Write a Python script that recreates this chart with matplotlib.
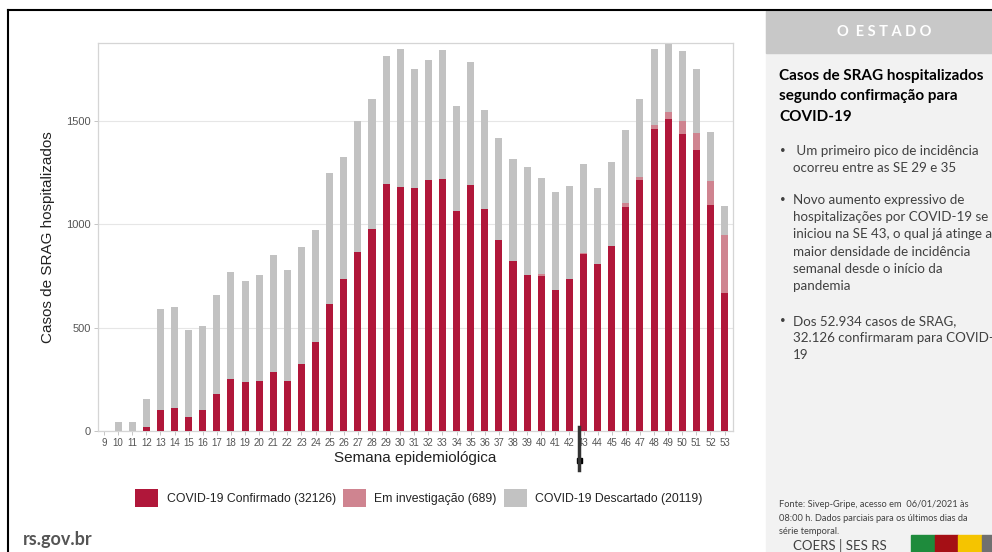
import numpy as np
import matplotlib.pyplot as plt
from matplotlib.patches import Rectangle, Patch
from matplotlib.lines import Line2D

# semanas epidemiologicas 9..53
semanas = list(range(9, 54))
confirmado = [0, 0, 0, 18, 102, 111, 68, 102, 179, 250, 235, 242, 285, 244, 324,
              429, 616, 736, 868, 977, 1195, 1178, 1176, 1216, 1219, 1063, 1189,
              1073, 923, 823, 753, 748, 681, 734, 856, 810, 895, 1082, 1215, 1460,
              1508, 1437, 1361, 1094, 669]
investigacao = [0, 0, 0, 0, 0, 0, 0, 0, 0, 0, 0, 0, 0, 0, 0,
                0, 0, 0, 0, 0, 0, 0, 0, 0, 0, 0, 0,
                0, 0, 0, 0, 12, 0, 0, 5, 0, 0, 20, 13, 18,
                37, 60, 79, 114, 279]
descartado = [0, 45, 45, 135, 487, 491, 421, 406, 477, 518, 492, 514, 567, 535, 568,
              542, 632, 588, 632, 630, 618, 671, 574, 576, 625, 510, 598,
              480, 495, 492, 524, 466, 477, 452, 429, 364, 405, 356, 377, 371,
              328, 343, 313, 237, 141]
legendas = ["COVID-19 Confirmado (32126)", "Em investigação (689)",
            "COVID-19 Descartado (20119)"]
cores = ["#B0173A", "#CF8490", "#C2C2C2"]

plt.rcParams['font.family'] = ['Liberation Sans', 'DejaVu Sans']

fig = plt.figure(figsize=(9.92, 5.52), dpi=100)
W, H = 992, 552

def fx(px):
    return px / W

def fy(py):
    return 1 - py / H

ax = fig.add_axes([fx(97.7), fy(431), fx(733) - fx(97.7), fy(42.7) - fy(431)])

conf = np.array(confirmado)
inv = np.array(investigacao)
desc = np.array(descartado)
ax.bar(semanas, conf, width=0.5, color=cores[0], zorder=3)
ax.bar(semanas, inv, width=0.5, bottom=conf, color=cores[1], zorder=3)
ax.bar(semanas, desc, width=0.5, bottom=conf + inv, color=cores[2], zorder=3)

ax.set_xlim(8.55, 53.6)
ax.set_ylim(0, 1878)
ax.set_xticks(semanas)
ax.set_yticks([0, 500, 1000, 1500])
ax.tick_params(axis='x', labelsize=7, colors='#555555', length=3, width=0.6, pad=2,
               color='#BBBBBB')
ax.tick_params(axis='y', labelsize=8, colors='#555555', length=3, width=0.6, pad=2,
               color='#BBBBBB')
ax.grid(axis='y', color='#E6E6E6', linewidth=0.8, zorder=0)
for s in ax.spines.values():
    s.set_color('#D5D5D5')
    s.set_linewidth(0.9)
ax.set_ylabel("Casos de SRAG hospitalizados", fontsize=11, color='#222222', labelpad=8)
ax.set_xlabel("Semana epidemiológica", fontsize=11, color='#222222', labelpad=2)

handles = [Patch(facecolor=c, edgecolor='none') for c in cores]
fig.legend(handles, legendas, loc='center', bbox_to_anchor=(fx(419), fy(498)),
           ncol=3, frameon=False, fontsize=8.8, handlelength=1.85, handleheight=1.85,
           handletextpad=0.7, columnspacing=0.6, labelcolor='#222222')

# marcador preto na SE 43
fig.add_artist(Line2D([fx(579), fx(579)], [fy(427), fy(470)], color='#333333',
                      linewidth=2.5))
fig.add_artist(Rectangle((fx(576.5), fy(463)), fx(5), 5 / H, color='black'))

# moldura
fig.add_artist(Line2D([fx(8), fx(8)], [fy(10), 0], color='black', linewidth=1.5))
fig.add_artist(Line2D([fx(8), 1], [fy(10), fy(10)], color='black', linewidth=1.5))

# painel lateral
fig.add_artist(Rectangle((fx(766), 0), fx(992 - 766), fy(10.5), color='#F2F2F2', zorder=0))
fig.add_artist(Rectangle((fx(766), fy(53)), fx(992 - 766), 42.5 / H, color='#C8C8C8', zorder=1))
fig.text(fx(884), fy(32), "O  E S T A D O", color='white', fontsize=10.5, fontweight='bold',
         ha='center', va='center', family='Lato')

panel_font = ['Lato', 'DejaVu Sans']
fig.text(fx(779), fy(69), "Casos de SRAG hospitalizados\nsegundo confirmação para\nCOVID-19",
         fontsize=11, fontweight='bold', color='black', ha='left', va='top',
         family=panel_font, linespacing=1.58)

bullets = [
    (145, " Um primeiro pico de incidência\nocorreu entre as SE 29 e 35"),
    (194, "Novo aumento expressivo de\nhospitalizações por COVID-19 se\niniciou na SE 43, o qual já atinge a\n"
          "maior densidade de incidência\nsemanal desde o início da\npandemia"),
    (315, "Dos 52.934 casos de SRAG,\n32.126 confirmaram para COVID-\n19"),
]
for ypix, txt in bullets:
    fig.text(fx(780), fy(ypix + 1), "•", fontsize=7, color='#404040', ha='left', va='top',
             family=panel_font)
    fig.text(fx(793), fy(ypix), txt, fontsize=9.6, color='#404040', ha='left', va='top',
             family=panel_font, linespacing=1.52)

fig.text(fx(779), fy(500), "Fonte: Sivep-Gripe, acesso em  06/01/2021 às\n08:00 h. Dados parciais para os últimos dias da\nsérie temporal.",
         fontsize=6.7, color='#404040', ha='left', va='top', family=panel_font, linespacing=1.65)
fig.text(fx(840), fy(546), "COERS | SES RS", fontsize=9.5, color='#404040', ha='center',
         va='center', family=panel_font)
logo = ["#1E8B3C", "#A50F15", "#F5C400", "#707070"]
for i, c in enumerate(logo):
    fig.add_artist(Rectangle((fx(911 + 23.5 * i), 0), fx(23.5), 17 / H, color=c, zorder=2))

fig.text(fx(23), fy(540), "rs.gov.br", fontsize=13, fontweight='bold', color='#555555',
         ha='left', va='center', family=panel_font)

fig.savefig("out.png", dpi=100)
